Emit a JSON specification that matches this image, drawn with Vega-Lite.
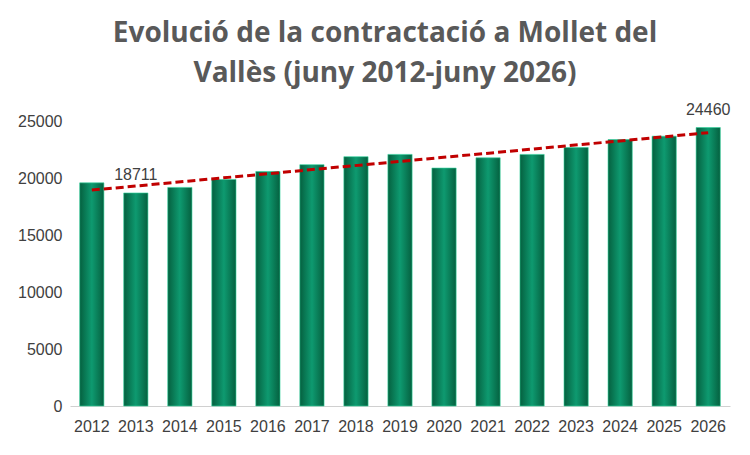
{
  "$schema": "https://vega.github.io/schema/vega-lite/v6.json",
  "width": 660,
  "height": 296,
  "autosize": "none",
  "padding": {"left": 70, "top": 110, "right": 20, "bottom": 49},
  "background": "white",
  "config": {"view": {"stroke": null}, "font": "Liberation Sans"},
  "title": {
    "text": ["Evolució de la contractació a Mollet del", "Vallès (juny 2012-juny 2026)"],
    "fontSize": 28, "fontWeight": "bold", "color": "#595959", "font": "Open Sans",
    "lineHeight": 40, "offset": 14, "anchor": "middle", "dx": -15
  },
  "data": {"values": [
    {"year": "2012", "value": 19600},
    {"year": "2013", "value": 18711},
    {"year": "2014", "value": 19200},
    {"year": "2015", "value": 19900},
    {"year": "2016", "value": 20600},
    {"year": "2017", "value": 21200},
    {"year": "2018", "value": 21900},
    {"year": "2019", "value": 22100},
    {"year": "2020", "value": 20900},
    {"year": "2021", "value": 21800},
    {"year": "2022", "value": 22100},
    {"year": "2023", "value": 22700},
    {"year": "2024", "value": 23400},
    {"year": "2025", "value": 23700},
    {"year": "2026", "value": 24460}
  ]},
  "encoding": {
    "x": {"field": "year", "type": "ordinal", "title": null,
      "scale": {"paddingInner": 0.45, "paddingOuter": 0.22},
      "axis": {"labelAngle": 0, "labelFontSize": 16, "labelColor": "#404040", "ticks": false, "domainColor": "#d0d0d0", "labelPadding": 12}}
  },
  "layer": [
    {
      "mark": {"type": "bar", "color": {"gradient": "linear", "x1": 0, "x2": 1, "y1": 0, "y2": 0,
        "stops": [{"offset": 0, "color": "#05603f"}, {"offset": 0.5, "color": "#0e9a70"}, {"offset": 1, "color": "#05603f"}]},
        "stroke": "#2fd39c", "strokeWidth": 0.6},
      "encoding": {
        "y": {"field": "value", "type": "quantitative", "title": null,
          "scale": {"domain": [0, 26000], "nice": false},
          "axis": {"values": [0,2500,5000,7500,10000,12500,15000,17500,20000,22500,25000], "labelOverlap": false, "format": "d", "grid": false, "domain": false, "ticks": false, "labelFontSize": 16, "labelColor": "#404040", "labelPadding": 8}}
      }
    },
    {
      "transform": [{"calculate": "toNumber(datum.year)", "as": "yn"},
        {"regression": "value", "on": "yn"},
        {"calculate": "''+datum.yn", "as": "year"}],
      "mark": {"type": "line", "color": "#c00000", "strokeWidth": 3, "strokeDash": [8, 4]},
      "encoding": {"y": {"field": "value", "type": "quantitative"}}
    },
    {
      "transform": [{"filter": "datum.year == '2013' || datum.year == '2026'"}],
      "mark": {"type": "text", "fontSize": 16, "color": "#404040", "dy": -10, "baseline": "bottom"},
      "encoding": {
        "y": {"field": "value", "type": "quantitative"},
        "text": {"field": "value", "type": "quantitative", "format": "d"}
      }
    }
  ]
}
